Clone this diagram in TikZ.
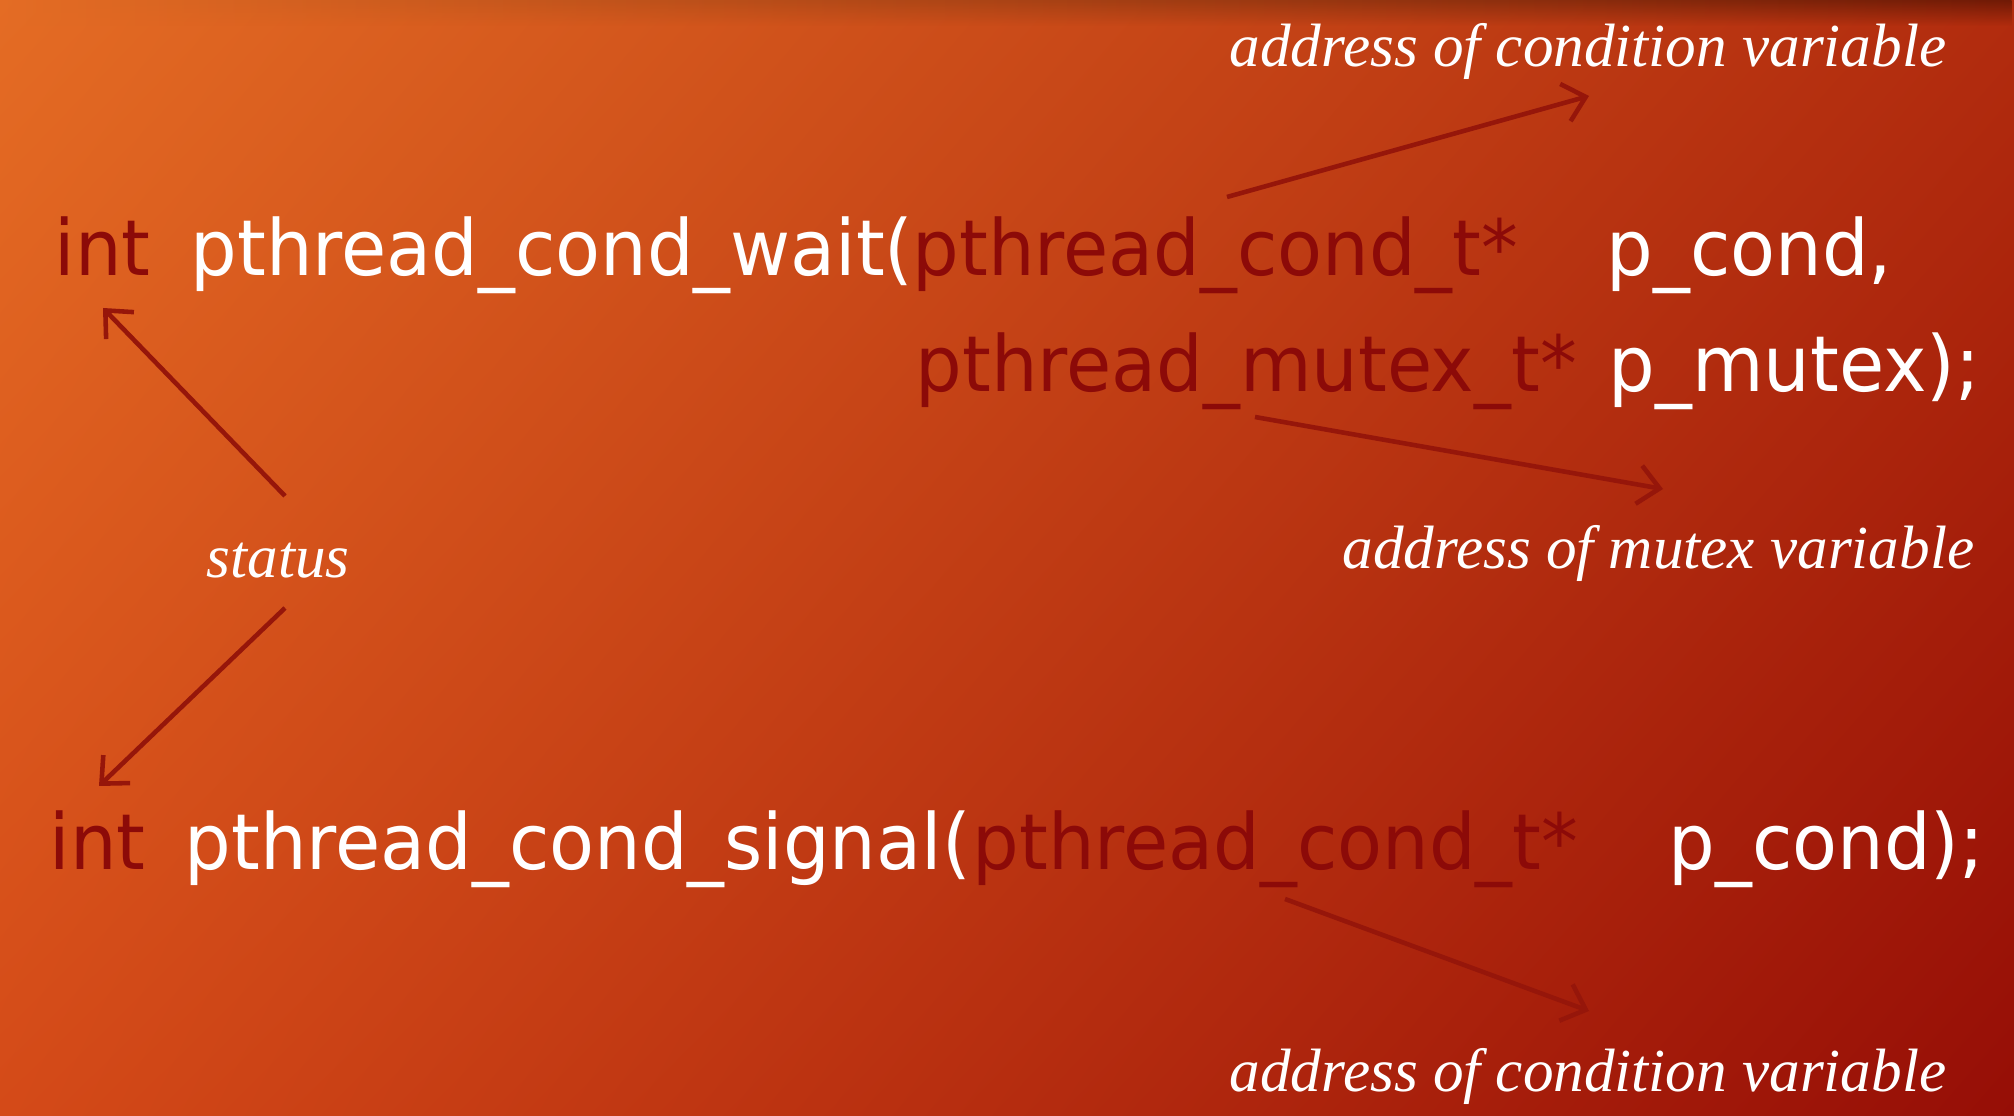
\documentclass[tikz,border=0pt]{standalone}
\usepackage{fontspec}
\newfontfamily\codefont{DejaVu Sans}
\newfontfamily\notefont{Liberation Serif}
\usetikzlibrary{arrows.meta,fadings,shadings}

\definecolor{bgUL}{RGB}{228,108,36}
\definecolor{bgUR}{RGB}{178,44,14}
\definecolor{bgLL}{RGB}{212,74,24}
\definecolor{bgLR}{RGB}{150,14,6}
\definecolor{bandR}{RGB}{112,26,6}
\definecolor{typered}{RGB}{140,10,8}
\definecolor{arrowred}{RGB}{150,22,10}

\tikzset{
  code/.style={anchor=base west, inner sep=0pt, text=white,
    font=\codefont\fontsize{22}{26}\selectfont},
  ctype/.style={code, text=typered},
  note/.style={anchor=base west, inner sep=0pt, text=white,
    font=\notefont\itshape\fontsize{17.4}{21}\selectfont},
  pointer/.style={draw=arrowred, line width=1.3pt,
    -{Straight Barb[length=6pt,width=11pt,line width=1.3pt]}}
}
\newcommand{\cw}[1]{\scalebox{0.95}[1]{#1}}

\begin{document}
\begin{tikzpicture}[x=0.01cm,y=-0.01cm]
  \useasboundingbox (0,0) rectangle (2014,1116);
  % background
  \shade[upper left=bgUL, upper right=bgUR, lower left=bgLL, lower right=bgLR]
    (0,0) rectangle (2014,1116);
  % darker band along the top edge
  \shade[left color=bgUL, right color=bandR, path fading=south]
    (0,0) rectangle (2014,26);

  % pthread_cond_wait
  \node[ctype] (w-int)   at (54,276)   {\cw{int}};
  \node[code]  (w-name)  at (190,276)  {\cw{pthread\_cond\_wait(}};
  \node[ctype] (w-ctype) at (912,276)  {\cw{pthread\_cond\_t*}};
  \node[code]  (w-cond)  at (1606,276) {\cw{p\_cond,}};
  \node[ctype] (w-mtype) at (915,392)  {\cw{pthread\_mutex\_t*}};
  \node[code]  (w-mutex) at (1608,392) {\cw{p\_mutex);}};

  % pthread_cond_signal
  \node[ctype] (s-int)   at (49,870)   {\cw{int}};
  \node[code]  (s-name)  at (184,870)  {\cw{pthread\_cond\_signal(}};
  \node[ctype] (s-ctype) at (972,870)  {\cw{pthread\_cond\_t*}};
  \node[code]  (s-cond)  at (1668,870) {\cw{p\_cond);}};

  % annotations
  \node[note] (n-cv1)    at (1229,67)   {address of condition variable};
  \node[note] (n-mutex)  at (1342,569)  {address of mutex variable};
  \node[note] (n-status) at (206,578)   {status};
  \node[note] (n-cv2)    at (1229,1092) {address of condition variable};

  % arrow ends
  \coordinate (a1s) at (1227,197);  \coordinate (a1e) at (1589,96);
  \coordinate (a2s) at (1255,417);  \coordinate (a2e) at (1663,489);
  \coordinate (a3s) at (285,496);   \coordinate (a3e) at (103,308);
  \coordinate (a4s) at (285,608);   \coordinate (a4e) at (99,786);
  \coordinate (a5s) at (1285,899);  \coordinate (a5e) at (1589,1011);

  \draw[pointer] (a1s) -- (a1e);
  \draw[pointer] (a2s) -- (a2e);
  \draw[pointer] (a3s) -- (a3e);
  \draw[pointer] (a4s) -- (a4e);
  \draw[pointer] (a5s) -- (a5e);
\end{tikzpicture}
\end{document}
